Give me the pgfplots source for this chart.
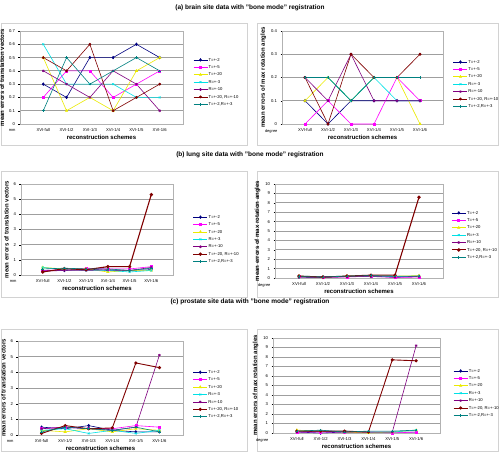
\documentclass[border=0pt]{standalone}
\usepackage{fontspec}
\setmainfont{Liberation Sans}
\usepackage{pgfplots}
\usepackage{pgfplotstable}
\pgfplotsset{compat=1.18}

\definecolor{xnavy}{RGB}{0,0,128}
\definecolor{xmag}{RGB}{255,0,255}
\definecolor{xyel}{RGB}{235,235,0}
\definecolor{xcyan}{RGB}{0,225,230}
\definecolor{xpur}{RGB}{128,0,128}
\definecolor{xmar}{RGB}{128,0,0}
\definecolor{xteal}{RGB}{0,128,128}

\pgfplotsset{
  excel/.style={
    scale only axis,
    xmin=0, xmax=7,
    xtick={1,2,3,4,5,6},
    xticklabels={XVI-full,XVI-1/2,XVI-1/3,XVI-1/4,XVI-1/5,XVI-1/6},
    xtick style={draw=none},
    ymin=0,
    ytick pos=left,
    ymajorgrids,
    grid style={gray!75, line width=0.8pt},
    axis line style={gray!60, line width=0.4pt},
    tick align=outside,
    ytick style={black, line width=0.3pt},
    major tick length=1.5pt,
    tick label style={font=\fontsize{4.2}{5}\selectfont},
    xticklabel style={yshift=1pt},
    label style={font=\bfseries\fontsize{6}{7}\selectfont},
    xlabel={reconstruction schemes},
    xlabel style={yshift=3pt},
    ylabel style={yshift=-2pt},
    /pgf/number format/assume math mode=true,
    clip=false,
    legend cell align=left,
    legend style={anchor=north west, draw=none, fill=none,
      font=\fontsize{4.2}{5}\selectfont,
      nodes={inner sep=0.7pt, text height=3.2pt, text depth=0.9pt}, row sep=1.9pt},
    legend image code/.code={\draw[mark repeat=2,mark phase=2] plot coordinates {(0pt,0pt) (7pt,0pt) (14pt,0pt)};},
    cycle list={
      {xnavy, mark=diamond*, mark size=1.3pt},
      {xmag, mark=square*, mark size=1.0pt},
      {xyel, mark=triangle*, mark size=1.3pt},
      {xcyan, mark=x, mark size=1.3pt},
      {xpur, mark=asterisk, mark size=1.3pt},
      {xmar, mark=*, mark size=1.1pt},
      {xteal, mark=+, mark size=1.3pt}},
    every axis plot/.append style={line width=0.6pt, mark options={solid}},
  }
}

% columns: a T=+-2, b T=+-5, c T=+-20, d R=+-3, e R=+-10, f T=+-20,R=+-10, g T=+-2,R=+-3
\pgfplotstableread{
x a b c d e f g
1 0.3 0.2 0.5 0.6 0.4 0.5 0.1
2 0.2 0.4 0.1 0.3 0.3 0.4 0.5
3 0.5 0.4 0.2 0.3 0.2 0.6 0.3
4 0.5 0.2 0.1 0.3 0.4 0.1 0.4
5 0.6 0.3 0.4 0.2 0.3 0.2 0.5
6 0.5 0.4 0.5 0.2 0.1 0.3 0.4
}\brainT
\pgfplotstableread{
x a b c d e f g
1 0.1 0.0 0.1 0.2 0.2 0.2 0.2
2 0.0 0.1 0.2 0.2 0.1 0.0 0.2
3 0.1 0.0 0.1 0.1 0.3 0.3 0.1
4 0.1 0.0 0.2 0.2 0.1 0.2 0.2
5 0.1 0.2 0.2 0.1 0.1 0.2 0.2
6 0.1 0.1 0.0 0.1 0.1 0.3 0.2
}\brainR
\pgfplotstableread{
x a b c d e f g
1 0.30 0.30 0.50 0.50 0.25 0.20 0.40
2 0.30 0.35 0.40 0.35 0.30 0.42 0.45
3 0.40 0.45 0.40 0.30 0.30 0.35 0.40
4 0.30 0.40 0.20 0.30 0.35 0.55 0.40
5 0.30 0.40 0.30 0.20 0.30 0.55 0.30
6 0.35 0.55 0.30 0.30 0.50 5.30 0.45
}\lungT
\pgfplotstableread{
x a b c d e f g
1 0.10 0.15 0.20 0.20 0.10 0.20 0.15
2 0.05 0.10 0.10 0.15 0.10 0.10 0.10
3 0.15 0.10 0.20 0.20 0.15 0.20 0.20
4 0.20 0.20 0.25 0.20 0.15 0.30 0.25
5 0.10 0.05 0.20 0.15 0.10 0.30 0.20
6 0.20 0.10 0.25 0.20 0.15 8.60 0.20
}\lungR
\pgfplotstableread{
x a b c d e f g
1 0.50 0.40 0.30 0.30 0.40 0.10 0.20
2 0.40 0.50 0.20 0.40 0.50 0.60 0.50
3 0.60 0.40 0.40 0.10 0.40 0.40 0.40
4 0.30 0.40 0.20 0.30 0.30 0.45 0.30
5 0.20 0.60 0.40 0.10 0.50 4.60 0.50
6 0.20 0.50 0.30 0.30 5.10 4.30 0.20
}\prosT
\pgfplotstableread{
x a b c d e f g
1 0.10 0.10 0.30 0.20 0.10 0.20 0.20
2 0.00 0.10 0.20 0.20 0.20 0.20 0.30
3 0.10 0.10 0.10 0.20 0.10 0.20 0.10
4 0.10 0.10 0.00 0.10 0.10 0.10 0.20
5 0.10 0.00 0.10 0.10 0.10 7.70 0.20
6 0.10 0.10 0.30 0.30 9.20 7.60 0.30
}\prosR

% #2 = line width of the "T=+-20, R=+-10" series
\newcommand{\sevenplots}[2]{%
  \addplot table[x=x,y=a]{#1};
  \addplot table[x=x,y=b]{#1};
  \addplot table[x=x,y=c]{#1};
  \addplot table[x=x,y=d]{#1};
  \addplot table[x=x,y=e]{#1};
  \addplot+[line width=#2] table[x=x,y=f]{#1};
  \addplot table[x=x,y=g]{#1};
  \legend{T=+-2,T=+-5,T=+-20,R=+-3,R=+-10,{T=+-20, R=+-10},{T=+-2,R=+-3}}
}

\begin{document}
\begin{tikzpicture}
\useasboundingbox (0pt,0pt) rectangle (500pt,452pt);
\fill[white] (0pt,0pt) rectangle (500pt,452pt);
% chart frames
\draw[gray!35, line width=0.5pt] (1pt,307pt) rectangle (247pt,429pt);
\draw[gray!35, line width=0.5pt] (257pt,307pt) rectangle (498pt,429pt);
\draw[gray!35, line width=0.5pt] (1pt,155pt) rectangle (247pt,281pt);
\draw[gray!35, line width=0.5pt] (257pt,155pt) rectangle (498pt,281pt);
\draw[gray!35, line width=0.5pt] (1pt,1pt) rectangle (247pt,123pt);
\draw[gray!35, line width=0.5pt] (257pt,1pt) rectangle (498pt,123pt);
% titles
\node[font=\bfseries\fontsize{6.5}{8}\selectfont] at (250pt,444pt) {(a) brain site data with "bone mode" registration};
\node[font=\bfseries\fontsize{6.5}{8}\selectfont] at (250pt,297pt) {(b) lung site data with "bone mode" registration};
\node[font=\bfseries\fontsize{6.5}{8}\selectfont] at (250pt,150pt) {(c) prostate site data with "bone mode" registration};

% (a) left
\begin{axis}[excel, at={(20pt,328pt)}, anchor=south west, width=163pt, height=93pt,
  ymax=0.7, ytick={0,0.1,0.2,0.3,0.4,0.5,0.6,0.7},
  ylabel={mean errors of translation vectors},
  legend style={at={(1.043,0.742)}}]
\sevenplots{\brainT}{0.6pt}
\node[font=\fontsize{4}{5}\selectfont, anchor=north east] at (rel axis cs:0,0) [yshift=-2pt,xshift=-1pt] {mm};
\end{axis}

% (a) right
\begin{axis}[excel, at={(282pt,328pt)}, anchor=south west, width=161pt, height=93pt,
  ymax=0.4, ytick={0,0.1,0.2,0.3,0.4},
  ylabel={mean errors of max rotation angles},
  legend style={at={(1.043,0.72)}}]
\sevenplots{\brainR}{0.6pt}
\node[font=\fontsize{4}{5}\selectfont, anchor=north east] at (rel axis cs:0,0) [yshift=-2pt,xshift=-1pt] {degree};
\end{axis}

% (b) left
\begin{axis}[excel, at={(21pt,177pt)}, anchor=south west, width=152pt, height=91pt,
  ymax=6, ytick={0,1,2,3,4,5,6},
  ylabel={mean errors of translation vectors},
  legend style={at={(1.11,0.69)}}]
\sevenplots{\lungT}{1.1pt}
\node[font=\fontsize{4}{5}\selectfont, anchor=north east] at (rel axis cs:0,0) [yshift=-2pt,xshift=-1pt] {mm};
\end{axis}

% (b) right
\begin{axis}[excel, at={(275pt,174pt)}, anchor=south west, width=168pt, height=94pt,
  ymax=10, ytick={0,1,2,3,4,5,6,7,8,9,10},
  ylabel={mean errors of max rotation angles},
  legend style={at={(1.03,0.745)}}]
\sevenplots{\lungR}{1.1pt}
\node[font=\fontsize{4}{5}\selectfont, anchor=north east] at (rel axis cs:0,0) [yshift=-2pt,xshift=-1pt] {degree};
\end{axis}

% (c) left
\begin{axis}[excel, at={(18pt,17pt)}, anchor=south west, width=165pt, height=94pt,
  ymax=6, ytick={0,1,2,3,4,5,6},
  ylabel={mean errors of translation vectors},
  legend style={at={(1.04,0.72)}}]
\sevenplots{\prosT}{0.9pt}
\node[font=\fontsize{4}{5}\selectfont, anchor=north east] at (rel axis cs:0,0) [yshift=-2pt,xshift=-1pt] {mm};
\end{axis}

% (c) right
\begin{axis}[excel, at={(273pt,19pt)}, anchor=south west, width=167pt, height=95pt,
  ymax=10, ytick={0,1,2,3,4,5,6,7,8,9,10},
  ylabel={mean errors of max rotation angles},
  legend style={at={(1.06,0.705)}}]
\sevenplots{\prosR}{0.9pt}
\node[font=\fontsize{4}{5}\selectfont, anchor=north east] at (rel axis cs:0,0) [yshift=-2pt,xshift=-1pt] {degree};
\end{axis}
\end{tikzpicture}
\end{document}
